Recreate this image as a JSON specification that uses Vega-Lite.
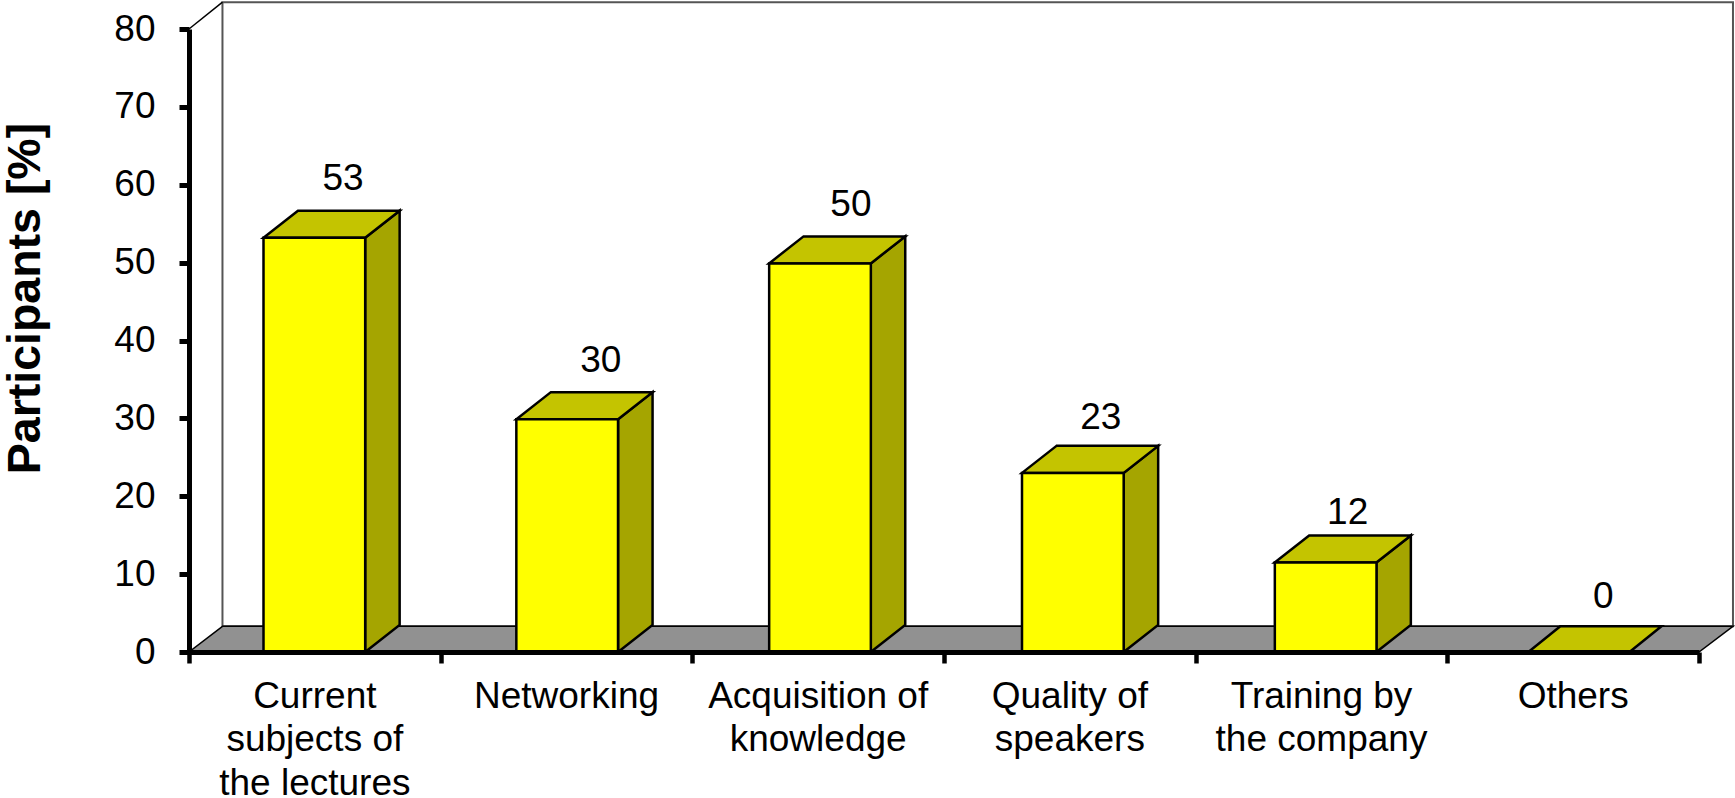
{"$schema":"https://vega.github.io/schema/vega-lite/v6.json","width":1510,"height":623,"autosize":{"type":"none"},"padding":{"left":189,"top":29,"right":36,"bottom":146},"background":"white","config":{"view":{"stroke":null},"font":"Liberation Sans"},"datasets":{"bars":[{"category":"Current subjects of the lectures","value":53.2},{"category":"Networking","value":29.9},{"category":"Acquisition of knowledge","value":49.9},{"category":"Quality of speakers","value":23},{"category":"Training by the company","value":11.5},{"category":"Others","value":0}],"labels":[{"label":53,"x":0.612,"y":60.75},{"label":30,"x":1.636,"y":37.4},{"label":50,"x":2.63,"y":57.4},{"label":23,"x":3.623,"y":30.1},{"label":12,"x":4.604,"y":17.9},{"label":0,"x":5.62,"y":7.05}],"sides":[{"bar":"a","x":0.7,"low":0,"high":53.2},{"bar":"a","x":0.837,"low":3.47,"high":56.67},{"bar":"b","x":1.705,"low":0,"high":29.9},{"bar":"b","x":1.842,"low":3.47,"high":33.37},{"bar":"c","x":2.709,"low":0,"high":49.9},{"bar":"c","x":2.846,"low":3.47,"high":53.37},{"bar":"d","x":3.714,"low":0,"high":23},{"bar":"d","x":3.851,"low":3.47,"high":26.47},{"bar":"e","x":4.718,"low":0,"high":11.5},{"bar":"e","x":4.855,"low":3.47,"high":14.97}],"tops":[{"bar":"a","y":53.2,"xa":0.296,"xb":0.7},{"bar":"a","y":56.67,"xa":0.433,"xb":0.837},{"bar":"b","y":29.9,"xa":1.301,"xb":1.705},{"bar":"b","y":33.37,"xa":1.438,"xb":1.842},{"bar":"c","y":49.9,"xa":2.305,"xb":2.709},{"bar":"c","y":53.37,"xa":2.442,"xb":2.846},{"bar":"d","y":23,"xa":3.31,"xb":3.714},{"bar":"d","y":26.47,"xa":3.447,"xb":3.851},{"bar":"e","y":11.5,"xa":4.314,"xb":4.718},{"bar":"e","y":14.97,"xa":4.451,"xb":4.855},{"bar":"f","y":0,"xa":5.322,"xb":5.724},{"bar":"f","y":3.3,"xa":5.449,"xb":5.851}],"floor":[{"y":0,"xa":0,"xb":6},{"y":3.3,"xa":0.133,"xb":6.135}],"wall":[{"xa":0.133,"xb":6.135,"ya":3.3,"yb":83.45}],"edge":[{"x":0,"y":80},{"x":0.133,"y":83.45}]},"resolve":{"scale":{"x":"independent"}},"layer":[{"data":{"name":"wall"},"mark":{"type":"rect","fill":"white","stroke":"#555555","strokeWidth":2},"encoding":{"x":{"field":"xa","type":"quantitative","scale":{"domain":[0,6]},"axis":null},"x2":{"field":"xb"},"y":{"field":"ya","type":"quantitative","scale":{"domain":[0,80],"nice":false},"axis":{"values":[0,10,20,30,40,50,60,70,80],"grid":false,"domain":true,"domainColor":"black","domainWidth":5,"tickColor":"black","tickWidth":5,"tickSize":10,"labelFont":"Liberation Sans","labelFontSize":37,"labelColor":"black","labelPadding":24,"title":"Participants [%]","titleFont":"Liberation Sans","titleFontSize":46.5,"titleFontWeight":"bold","titleColor":"black","titleAngle":-90,"titleX":-164,"titleY":269,"titleAlign":"center","titleBaseline":"middle","zindex":1}},"y2":{"field":"yb"}}},{"data":{"name":"edge"},"mark":{"type":"line","color":"black","strokeWidth":1.5},"encoding":{"x":{"field":"x","type":"quantitative","scale":{"domain":[0,6]},"axis":null},"y":{"field":"y","type":"quantitative"}}},{"data":{"name":"floor"},"mark":{"type":"area","orient":"horizontal","fill":"#919191","stroke":"black","strokeWidth":1.5},"encoding":{"y":{"field":"y","type":"quantitative"},"x":{"field":"xa","type":"quantitative","scale":{"domain":[0,6]},"axis":{"orient":"bottom","values":[0,1,2,3,4,5,6],"title":null,"labels":false,"grid":false,"tickColor":"black","tickWidth":4.5,"tickSize":11,"domain":true,"domainColor":"black","domainWidth":5,"zindex":1}},"x2":{"field":"xb"}}},{"data":{"name":"sides"},"mark":{"type":"area","fill":"#A5A500","stroke":"black","strokeWidth":2.5},"encoding":{"detail":{"field":"bar"},"x":{"field":"x","type":"quantitative","scale":{"domain":[0,6]},"axis":null},"y":{"field":"low","type":"quantitative"},"y2":{"field":"high"}}},{"data":{"name":"tops"},"mark":{"type":"area","orient":"horizontal","fill":"#C4C400","stroke":"black","strokeWidth":2.5},"encoding":{"detail":{"field":"bar"},"y":{"field":"y","type":"quantitative"},"x":{"field":"xa","type":"quantitative","scale":{"domain":[0,6]},"axis":null},"x2":{"field":"xb"}}},{"data":{"name":"bars"},"mark":{"type":"bar","fill":"#FFFF00","stroke":"black","strokeWidth":2.5},"encoding":{"x":{"field":"category","type":"nominal","sort":null,"scale":{"range":[74.5,1440.35],"paddingInner":0.5978,"paddingOuter":0},"axis":null},"y":{"field":"value","type":"quantitative"}}},{"data":{"name":"bars"},"mark":{"type":"rule","strokeOpacity":0},"encoding":{"x":{"field":"category","type":"nominal","sort":null,"scale":{"paddingInner":0.596,"paddingOuter":0.298},"axis":{"orient":"bottom","title":null,"labelAngle":0,"labelFont":"Liberation Sans","labelFontSize":37,"labelColor":"black","labelLimit":500,"labelOverlap":false,"labelPadding":26,"labelLineHeight":43.5,"ticks":false,"domain":false,"grid":false,"zindex":1,"labelExpr":"datum.value=='Current subjects of the lectures'?['Current','subjects of','the lectures']:datum.value=='Acquisition of knowledge'?['Acquisition of','knowledge']:datum.value=='Quality of speakers'?['Quality of','speakers']:datum.value=='Training by the company'?['Training by','the company']:datum.value"}}}},{"data":{"name":"labels"},"mark":{"type":"text","font":"Liberation Sans","fontSize":37,"color":"black","baseline":"middle","align":"center"},"encoding":{"x":{"field":"x","type":"quantitative","scale":{"domain":[0,6]},"axis":null},"y":{"field":"y","type":"quantitative"},"text":{"field":"label","type":"quantitative"}}}]}
